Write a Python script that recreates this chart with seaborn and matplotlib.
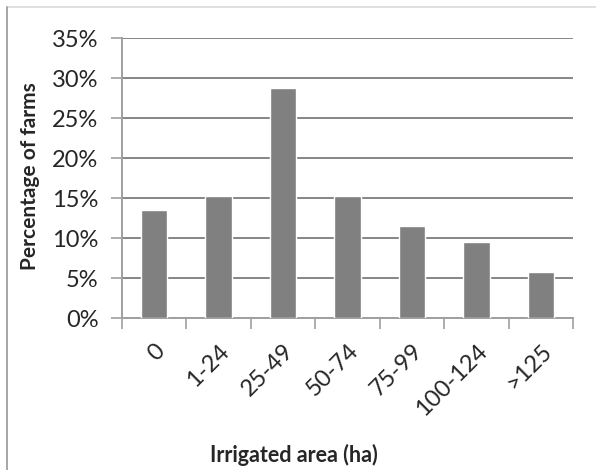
import matplotlib
matplotlib.use("Agg")
import matplotlib.pyplot as plt
import matplotlib.ticker as mticker
from matplotlib.lines import Line2D
import seaborn as sns
import pandas as pd
import numpy as np

# data (percent of farms)
areas = ["0", "1-24", "25-49", "50-74", "75-99", "100-124", ">125"]
percent = [13.5, 15.25, 28.75, 15.25, 11.5, 9.5, 5.75]

sns.set_style("white")
plt.rcParams['font.family'] = ['Lato', 'DejaVu Sans']

df = pd.DataFrame({"area": areas, "pct": percent})

fig = plt.figure(figsize=(5.96, 4.70), dpi=100)
ax = fig.add_axes([0.2047, 0.3234, 0.7567, 0.5957])

grid_col = "#868686"
axis_col = "#a0a0a0"

sns.barplot(data=df, x="area", y="pct", color="#808080", width=0.41,
	saturation=1, ax=ax, zorder=3)

ax.set_ylim(0, 35)
ax.set_xlim(-0.5, len(areas) - 0.5)
ax.set_yticks(np.arange(0, 36, 5))
ax.yaxis.set_major_formatter(mticker.FuncFormatter(lambda v, p: "%d%%" % v))
ax.yaxis.grid(True, color=grid_col, linewidth=1.4, zorder=0)
ax.set_axisbelow(True)

# category boundary ticks on the x axis
ax.set_xticks(np.arange(-0.5, len(areas), 1.0), minor=True)
ax.tick_params(axis="x", which="minor", length=8, width=1.2, color=axis_col, direction="out", bottom=True)
ax.tick_params(axis="x", which="major", length=0, pad=16, labelsize=17)
ax.tick_params(axis="y", which="major", length=8, width=1.2, color=axis_col, direction="out", left=True, labelsize=17, pad=9)
for lab in ax.get_xticklabels():
	lab.set_rotation(45)
	lab.set_ha("right")
	lab.set_rotation_mode("anchor")

ax.set_xlabel("")
ax.set_ylabel("")
for s in ["top", "right"]:
	ax.spines[s].set_visible(False)
ax.spines["left"].set_color(axis_col)
ax.spines["bottom"].set_color(axis_col)
ax.spines["left"].set_linewidth(1.4)
ax.spines["bottom"].set_linewidth(1.4)

fig.text(294 / 596, 1 - 455 / 470, "Irrigated area (ha)", ha="center", va="center",
	fontsize=15.5, fontweight="bold")
fig.text(30 / 596, 1 - 176 / 470, "Percentage of farms", ha="center", va="center",
	rotation=90, fontsize=15, fontweight="bold")

# outer frame (top and left edges)
fig.add_artist(Line2D([7 / 596, 1], [1 - 7 / 470, 1 - 7 / 470], color="#d9d9d9", linewidth=1.2, transform=fig.transFigure))
fig.add_artist(Line2D([7 / 596, 7 / 596], [0, 1 - 7 / 470], color="#a6a6a6", linewidth=1.4, transform=fig.transFigure))

fig.savefig("out.png", dpi=100)
